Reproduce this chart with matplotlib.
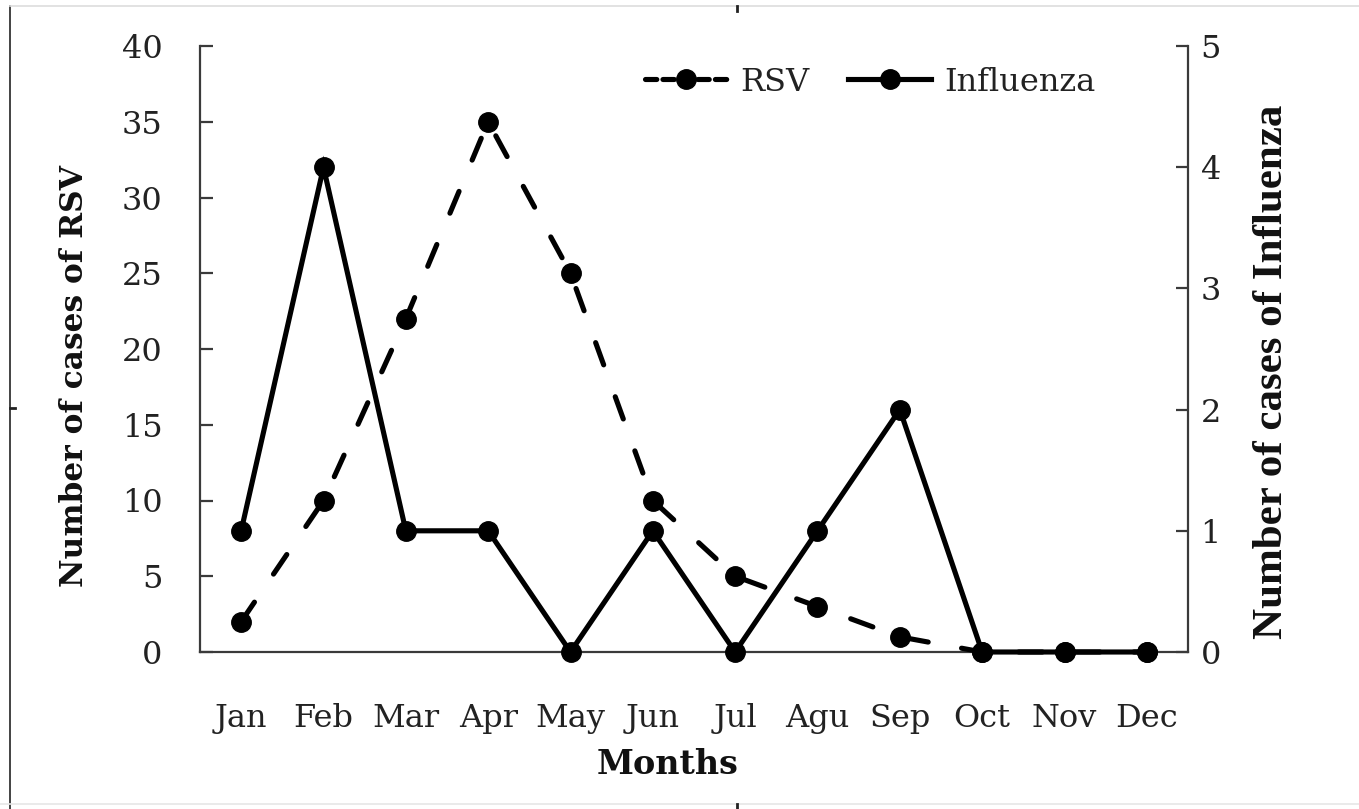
import matplotlib
matplotlib.use("Agg")
import matplotlib.pyplot as plt
from matplotlib.lines import Line2D

months = ["Jan", "Feb", "Mar", "Apr", "May", "Jun", "Jul", "Agu", "Sep", "Oct", "Nov", "Dec"]
rsv = [2, 10, 22, 35, 25, 10, 5, 3, 1, 0, 0, 0]
influenza = [1, 4, 1, 1, 0, 1, 0, 1, 2, 0, 0, 0]
rsv_ticks = [0, 5, 10, 15, 20, 25, 30, 35, 40]
flu_ticks = [0, 1, 2, 3, 4, 5]

W, H = 1359, 809
fig = plt.figure(figsize=(W / 100, H / 100), dpi=100)
fig.patch.set_facecolor("white")

L, R, T, B = 200, 1188, 46, 652
ax = fig.add_axes([L / W, 1 - B / H, (R - L) / W, (B - T) / H])
ax2 = ax.twinx()

x = list(range(len(months)))
spine_c = "#3a3a3a"
tick_font = dict(family="DejaVu Serif", size=23)
LW, MS = 3.7, 14

ax.plot(x, rsv, color="black", lw=LW, marker="o", ms=MS, dashes=(4.6, 6.6),
        dash_capstyle="round", solid_capstyle="round", clip_on=False, zorder=3)
ax2.plot(x, influenza, color="black", lw=LW, marker="o", ms=MS,
         solid_joinstyle="miter", clip_on=False, zorder=3)

ax.set_xlim(-0.5, 11.5)
ax.set_ylim(0, 40)
ax2.set_ylim(0, 5)
ax.set_yticks(rsv_ticks)
ax2.set_yticks(flu_ticks)
ax.set_xticks(x)
ax.set_xticklabels(months, fontdict=tick_font)
ax.set_yticklabels([str(v) for v in rsv_ticks], fontdict=tick_font)
ax2.set_yticklabels([str(v) for v in flu_ticks], fontdict=tick_font)

for a in (ax, ax2):
    a.spines["top"].set_visible(False)
    for s in a.spines.values():
        s.set_color(spine_c)
        s.set_linewidth(1.6)
ax.spines["right"].set_visible(False)
ax2.spines["left"].set_visible(False)
ax2.spines["bottom"].set_visible(False)

ax.tick_params(axis="y", direction="in", length=9, width=1.6, color=spine_c, pad=27, labelcolor="#222222")
ax2.tick_params(axis="y", direction="in", length=9, width=1.6, color=spine_c, pad=9, labelcolor="#222222")
ax.tick_params(axis="x", length=0, pad=37, labelcolor="#222222")

fig.text(75 / W, 1 - 376 / H, "Number of cases of RSV", rotation=90, ha="center", va="center",
         family="DejaVu Serif", weight="bold", size=22.5, color="#111111")
fig.text(1272 / W, 1 - 372 / H, "Number of cases of Influenza", rotation=90, ha="center", va="center",
         family="Liberation Serif", weight="bold", size=31, color="#111111")
fig.text(668 / W, 1 - 765 / H, "Months", ha="center", va="center",
         family="DejaVu Serif", weight="bold", size=24, color="#111111")

h1 = Line2D([], [], color="black", lw=LW, marker="o", ms=MS, dashes=(2.2, 1.2), dash_capstyle="round")
h2 = Line2D([], [], color="black", lw=LW, marker="o", ms=MS)
leg = ax2.legend([h1, h2], ["RSV", "Influenza"], ncol=2, frameon=False,
                 loc="center", bbox_to_anchor=((870 - L) / (R - L), (B - 82) / (B - T)),
                 bbox_transform=ax.transAxes,
                 prop=dict(family="DejaVu Serif", size=23), handlelength=2.6,
                 handletextpad=0.4, columnspacing=1.2, borderaxespad=0)
for t in leg.get_texts():
    t.set_color("#222222")

# page frame lines
fig.add_artist(Line2D([10 / W, 10 / W], [0, 1 - 6 / H], transform=fig.transFigure, color="#222222", lw=1.2))
fig.add_artist(Line2D([10 / W, 1], [1 - 6 / H, 1 - 6 / H], transform=fig.transFigure, color="#dddddd", lw=1.2))
fig.add_artist(Line2D([0, 1], [1 - 804 / H, 1 - 804 / H], transform=fig.transFigure, color="#e6e6e6", lw=1.2))
fig.add_artist(Line2D([737 / W, 737 / W], [1 - 6 / H, 1 - 11 / H], transform=fig.transFigure, color="#222222", lw=2))
fig.add_artist(Line2D([737 / W, 737 / W], [1 - 804 / H, 1 - 809 / H], transform=fig.transFigure, color="#222222", lw=2))
fig.add_artist(Line2D([10 / W, 15 / W], [1 - 408 / H, 1 - 408 / H], transform=fig.transFigure, color="#222222", lw=2))

fig.savefig("out.png", dpi=100, facecolor="white")
